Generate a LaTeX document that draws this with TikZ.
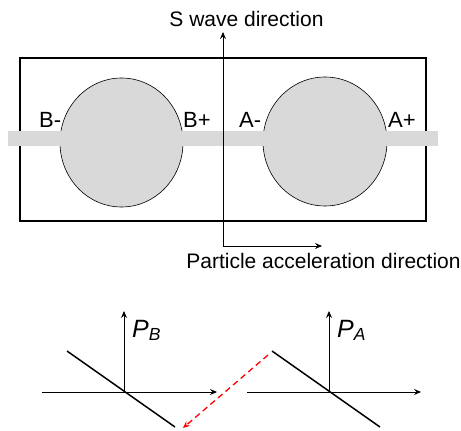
\documentclass[tikz,border=0pt]{standalone}
\usepackage{fontspec}
\setmainfont{Liberation Sans}
\usetikzlibrary{arrows.meta}
\tikzset{
  myarrow/.style={-{Stealth[length=7pt,width=6pt,inset=2.5pt]}, line width=0.9pt},
  lbl/.style={anchor=base west, inner sep=0pt, font=\fontsize{22}{26}\selectfont},
  captext/.style={anchor=base, inner sep=0pt, font=\fontsize{21}{25}\selectfont},
  plbl/.style={anchor=base west, inner sep=0pt, font=\fontsize{25}{29}\selectfont\itshape},
  ball/.style={fill=gray!30, draw=black, line width=0.6pt},
  slant/.style={line width=1.5pt},
}
\begin{document}
\begin{tikzpicture}[x=1pt,y=-1pt]
\useasboundingbox (0,0) rectangle (461,431);
% box
\draw[line width=1.5pt] (20,58) rectangle (426,221);
% balls
\draw[ball] (121.5,142.5) ellipse [x radius=61.5, y radius=64.5];
\draw[ball] (325,141.5) ellipse [x radius=62, y radius=64.5];
% bar
\fill[gray!30] (8,131) rectangle (438,146);
% labels
\node[lbl] (bm) at (39,127) {B-};
\node[lbl] (bp) at (183,127) {B+};
\node[lbl] (am) at (239,127) {A-};
\node[lbl] (ap) at (388,127) {A+};
% direction arrows
\coordinate (o) at (223,246);
\coordinate (up) at (223,32);
\coordinate (rt) at (322,246);
\draw[myarrow] (o) -- (up);
\draw[myarrow] (o) -- (rt);
\node[captext] (sw) at (246.5,27) {S wave direction};
\node[captext] (pa) at (323.5,268) {Particle acceleration direction};
% left plot
\coordinate (bl) at (42,392);
\coordinate (br) at (217,392);
\coordinate (bo) at (124,392);
\coordinate (bt) at (124,311);
\draw[myarrow] (bl) -- (br);
\draw[myarrow] (bo) -- (bt);
\coordinate (bs1) at (67,351);
\coordinate (bs2) at (175,427);
\draw[slant] (bs1) -- (bs2);
\node[plbl] (pb) at (132,337) {P\textsubscript{B}};
% right plot
\coordinate (al) at (247,392);
\coordinate (ar) at (421,392);
\coordinate (ao) at (329,392);
\coordinate (at2) at (329,311);
\draw[myarrow] (al) -- (ar);
\draw[myarrow] (ao) -- (at2);
\coordinate (as1) at (272,351);
\coordinate (as2) at (380,427);
\draw[slant] (as1) -- (as2);
\node[plbl] (pA) at (337,337) {P\textsubscript{A}};
% red dashed arrow
\coordinate (r1) at (268,355);
\coordinate (r2) at (183,428);
\draw[myarrow, red, line width=1.3pt, dash pattern=on 6pt off 4pt] (r1) -- (r2);
\end{tikzpicture}
\end{document}
